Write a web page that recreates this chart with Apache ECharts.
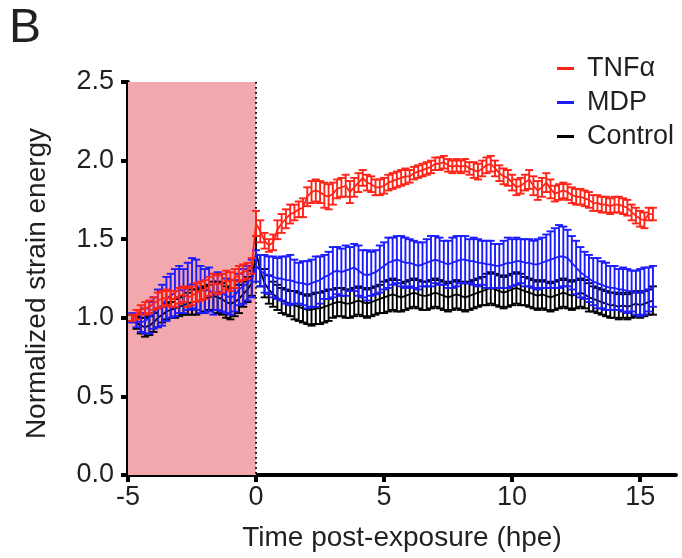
<!DOCTYPE html>
<html>
<head>
<meta charset="utf-8">
<script src="https://cdn.jsdelivr.net/npm/echarts@6/dist/echarts.min.js"></script>
<style>
html,body{margin:0;padding:0;background:#fff;}
#chart{width:682px;height:558px;}
</style>
</head>
<body>
<div id="chart"></div>
<script>
// Time grid: every 10 minutes from -4h50 to 15h30 (hpe)
const timeStart = -29 / 6;
const timeStep = 1 / 6;
const nPoints = 123;
const times = [];
for (let i = 0; i < nPoints; i++) times.push(+(timeStart + i * timeStep).toFixed(4));

const xTicks = [-5, 0, 5, 10, 15];
const exposureWindow = [-5, 0];

const tnfMean = [
  1.00,1.02,1.05,1.06,1.07,1.09,1.11,1.12,1.13,1.12,
  1.12,1.14,1.15,1.13,1.14,1.16,1.17,1.18,1.20,1.22,
  1.21,1.22,1.24,1.23,1.25,1.28,1.29,1.30,1.33,1.60,
  1.55,1.49,1.46,1.48,1.56,1.60,1.63,1.66,1.67,1.69,
  1.70,1.77,1.80,1.81,1.80,1.78,1.77,1.79,1.82,1.83,
  1.84,1.80,1.83,1.86,1.89,1.86,1.85,1.83,1.83,1.84,
  1.86,1.87,1.88,1.89,1.90,1.90,1.92,1.93,1.94,1.95,
  1.96,1.98,1.98,1.99,1.97,1.96,1.97,1.96,1.97,1.95,
  1.94,1.93,1.95,1.97,1.98,1.95,1.92,1.90,1.89,1.86,
  1.83,1.84,1.86,1.88,1.84,1.81,1.83,1.86,1.82,1.79,
  1.80,1.81,1.80,1.78,1.77,1.77,1.76,1.75,1.73,1.73,
  1.72,1.72,1.71,1.72,1.72,1.71,1.70,1.67,1.65,1.63,
  1.62,1.66,1.66
];
const tnfErr = [
  0.02,0.03,0.03,0.04,0.04,0.04,0.05,0.05,0.05,0.05,
  0.05,0.05,0.05,0.06,0.06,0.06,0.06,0.06,0.06,0.06,
  0.06,0.06,0.06,0.06,0.06,0.05,0.05,0.05,0.05,0.08,
  0.07,0.05,0.04,0.05,0.06,0.06,0.06,0.06,0.05,0.05,
  0.06,0.06,0.07,0.07,0.07,0.08,0.08,0.07,0.06,0.06,
  0.07,0.07,0.06,0.06,0.05,0.05,0.05,0.05,0.05,0.05,
  0.05,0.05,0.05,0.05,0.05,0.04,0.04,0.04,0.04,0.04,
  0.04,0.04,0.04,0.04,0.04,0.04,0.04,0.04,0.04,0.04,
  0.05,0.05,0.05,0.05,0.05,0.05,0.05,0.05,0.05,0.05,
  0.05,0.05,0.05,0.06,0.06,0.06,0.06,0.06,0.06,0.05,
  0.05,0.05,0.05,0.05,0.05,0.05,0.05,0.05,0.05,0.05,
  0.05,0.05,0.05,0.05,0.05,0.05,0.05,0.05,0.05,0.05,
  0.05,0.04,0.04
];
const mdpMean = [
  1.00,0.98,0.97,0.98,1.00,1.03,1.06,1.08,1.12,1.14,
  1.16,1.18,1.17,1.20,1.22,1.21,1.18,1.17,1.18,1.15,
  1.17,1.16,1.14,1.13,1.14,1.18,1.20,1.22,1.25,1.33,
  1.30,1.28,1.27,1.26,1.25,1.25,1.24,1.24,1.23,1.22,
  1.22,1.21,1.22,1.23,1.24,1.26,1.27,1.29,1.30,1.29,
  1.30,1.31,1.32,1.30,1.28,1.27,1.28,1.29,1.31,1.33,
  1.35,1.36,1.37,1.36,1.35,1.35,1.34,1.33,1.34,1.35,
  1.36,1.37,1.36,1.35,1.34,1.35,1.36,1.37,1.37,1.36,
  1.36,1.35,1.35,1.34,1.34,1.33,1.33,1.34,1.35,1.35,
  1.36,1.36,1.35,1.35,1.34,1.34,1.35,1.36,1.37,1.38,
  1.39,1.39,1.38,1.35,1.32,1.29,1.27,1.25,1.23,1.22,
  1.21,1.20,1.19,1.19,1.18,1.18,1.17,1.17,1.16,1.16,
  1.17,1.18,1.20
];
const mdpErr = [
  0.03,0.04,0.06,0.08,0.10,0.10,0.12,0.13,0.14,0.14,
  0.15,0.15,0.14,0.15,0.16,0.16,0.15,0.14,0.14,0.13,
  0.12,0.12,0.11,0.11,0.10,0.10,0.11,0.11,0.12,0.10,
  0.10,0.12,0.12,0.13,0.13,0.14,0.15,0.16,0.14,0.13,
  0.14,0.15,0.15,0.16,0.15,0.14,0.15,0.16,0.15,0.15,
  0.16,0.14,0.15,0.16,0.15,0.16,0.14,0.14,0.15,0.15,
  0.16,0.15,0.15,0.16,0.16,0.15,0.15,0.15,0.14,0.15,
  0.16,0.15,0.15,0.14,0.15,0.16,0.16,0.15,0.15,0.14,
  0.15,0.15,0.14,0.15,0.15,0.14,0.14,0.15,0.16,0.15,
  0.15,0.14,0.15,0.15,0.15,0.16,0.16,0.17,0.18,0.19,
  0.20,0.19,0.18,0.17,0.17,0.16,0.15,0.15,0.15,0.16,
  0.15,0.15,0.14,0.14,0.13,0.14,0.14,0.13,0.14,0.15,
  0.15,0.14,0.13
];
const ctrlMean = [
  1.00,0.97,0.95,0.94,0.95,0.97,1.00,1.02,1.04,1.05,
  1.06,1.07,1.08,1.09,1.10,1.10,1.11,1.12,1.13,1.14,
  1.13,1.12,1.10,1.09,1.10,1.12,1.15,1.18,1.22,1.42,
  1.30,1.22,1.18,1.15,1.13,1.11,1.10,1.09,1.08,1.07,
  1.06,1.05,1.05,1.06,1.06,1.07,1.08,1.09,1.10,1.10,
  1.09,1.09,1.10,1.11,1.10,1.09,1.10,1.11,1.12,1.13,
  1.14,1.15,1.14,1.13,1.14,1.15,1.16,1.15,1.14,1.14,
  1.15,1.16,1.15,1.14,1.13,1.14,1.15,1.14,1.13,1.14,
  1.15,1.16,1.17,1.18,1.19,1.18,1.17,1.16,1.17,1.18,
  1.19,1.18,1.17,1.16,1.15,1.14,1.15,1.14,1.13,1.14,
  1.15,1.16,1.15,1.14,1.15,1.16,1.15,1.13,1.12,1.11,
  1.10,1.09,1.08,1.08,1.07,1.08,1.07,1.08,1.09,1.08,
  1.09,1.10,1.11
];
const ctrlErr = [
  0.02,0.04,0.05,0.06,0.06,0.06,0.06,0.05,0.05,0.05,
  0.06,0.06,0.06,0.07,0.08,0.08,0.08,0.08,0.08,0.09,
  0.10,0.10,0.10,0.10,0.09,0.09,0.08,0.08,0.08,0.10,
  0.10,0.09,0.09,0.08,0.08,0.08,0.08,0.08,0.09,0.09,
  0.09,0.09,0.10,0.10,0.10,0.10,0.10,0.09,0.09,0.09,
  0.09,0.09,0.09,0.09,0.09,0.09,0.09,0.09,0.09,0.10,
  0.10,0.10,0.10,0.09,0.09,0.09,0.09,0.09,0.09,0.09,
  0.09,0.09,0.09,0.09,0.09,0.09,0.09,0.09,0.09,0.09,
  0.09,0.09,0.09,0.10,0.10,0.10,0.10,0.10,0.10,0.10,
  0.10,0.10,0.09,0.09,0.09,0.09,0.09,0.09,0.09,0.09,
  0.09,0.09,0.09,0.09,0.09,0.09,0.09,0.09,0.08,0.08,
  0.08,0.08,0.08,0.08,0.08,0.08,0.08,0.08,0.08,0.08,
  0.08,0.08,0.09
];

const seriesDefs = [
  { name: 'Control', color: '#000000', mean: ctrlMean, err: ctrlErr, z: 3 },
  { name: 'MDP', color: '#1c1cff', mean: mdpMean, err: mdpErr, z: 4 },
  { name: 'TNFα', color: '#ff2318', mean: tnfMean, err: tnfErr, z: 5 }
];

const FONT = "'Liberation Sans', Arial, Helvetica, sans-serif";
const TXT = '#231f20';

function errBarRender(color) {
  return function (params, api) {
    const t = api.value(0), m = api.value(1), e = api.value(2);
    const top = api.coord([t, m + e]);
    const bot = api.coord([t, m - e]);
    const hw = 4;
    const st = { stroke: color, lineWidth: 1.9 };
    return {
      type: 'group',
      children: [
        { type: 'line', shape: { x1: top[0], y1: top[1], x2: bot[0], y2: bot[1] }, style: st },
        { type: 'line', shape: { x1: top[0] - hw, y1: top[1], x2: top[0] + hw, y2: top[1] }, style: st },
        { type: 'line', shape: { x1: bot[0] - hw, y1: bot[1], x2: bot[0] + hw, y2: bot[1] }, style: st }
      ]
    };
  };
}

const series = [];
// shaded exposure window + dotted line at t = 0
series.push({
  type: 'custom',
  name: 'exposure',
  silent: true,
  z: 1,
  data: [[exposureWindow[0], exposureWindow[1]]],
  encode: { x: [0, 1] },
  renderItem: function (params, api) {
    const x0 = api.value(0), x1 = api.value(1);
    const a = api.coord([x0, 2.5]);
    const b = api.coord([x1, 0]);
    return {
      type: 'group',
      children: [
        { type: 'rect', shape: { x: a[0], y: a[1], width: b[0] - a[0], height: b[1] - a[1] }, style: { fill: '#f3a8ad' } },
        { type: 'line', shape: { x1: b[0], y1: a[1], x2: b[0], y2: b[1] }, style: { stroke: '#000', lineWidth: 1.8, lineDash: [1.8, 3.2] } }
      ]
    };
  }
});

seriesDefs.forEach(function (d) {
  const pts = times.map(function (t, i) { return [t, d.mean[i], d.err[i]]; });
  series.push({
    type: 'custom',
    name: d.name,
    z: d.z,
    silent: true,
    itemStyle: { color: d.color },
    data: pts,
    encode: { x: 0, y: 1 },
    renderItem: errBarRender(d.color)
  });
  series.push({
    type: 'line',
    name: d.name,
    z: d.z,
    silent: true,
    showSymbol: false,
    symbol: 'none',
    color: d.color,
    lineStyle: { color: d.color, width: 1.8 },
    data: times.map(function (t, i) { return [t, d.mean[i]]; })
  });
});

const chart = echarts.init(document.getElementById('chart'), null, { renderer: 'canvas' });
chart.setOption({
  animation: false,
  backgroundColor: '#ffffff',
  title: {
    text: 'B',
    left: 4,
    top: 0,
    textStyle: { fontFamily: FONT, fontSize: 48, fontWeight: 'normal', color: TXT }
  },
  legend: {
    data: ['TNFα', 'MDP', 'Control'],
    orient: 'vertical',
    left: 552,
    top: 50,
    icon: 'rect',
    itemWidth: 17,
    itemHeight: 3,
    itemGap: 7,
    textStyle: { fontFamily: FONT, fontSize: 27, color: TXT, padding: [0, 0, 0, 8] }
  },
  grid: { left: 128, right: 6, top: 82, bottom: 83, containLabel: false },
  xAxis: {
    type: 'value',
    min: -5,
    max: 16.4,
    interval: 5,
    name: 'Time post-exposure (hpe)',
    nameLocation: 'middle',
    nameGap: 49,
    nameTextStyle: { fontFamily: FONT, fontSize: 28, color: TXT },
    axisLine: { show: true, onZero: false, lineStyle: { color: '#000', width: 4 } },
    axisTick: { show: true, length: 7, lineStyle: { color: '#000', width: 4 }, customValues: xTicks },
    axisLabel: { fontFamily: FONT, fontSize: 27, color: TXT, margin: 9, customValues: xTicks },
    splitLine: { show: false }
  },
  yAxis: {
    type: 'value',
    min: 0,
    max: 2.5,
    interval: 0.5,
    name: 'Normalized strain energy',
    nameLocation: 'middle',
    nameGap: 77,
    nameTextStyle: { fontFamily: FONT, fontSize: 28, color: TXT, padding: [0, 0, 0, -10] },
    axisLine: { show: true, onZero: false, lineStyle: { color: '#000', width: 4 } },
    axisTick: { show: true, length: 7, lineStyle: { color: '#000', width: 4 } },
    axisLabel: { fontFamily: FONT, fontSize: 27, color: TXT, margin: 14, formatter: function (v) { return v.toFixed(1); } },
    splitLine: { show: false }
  },
  series: series
});
</script>
</body>
</html>
